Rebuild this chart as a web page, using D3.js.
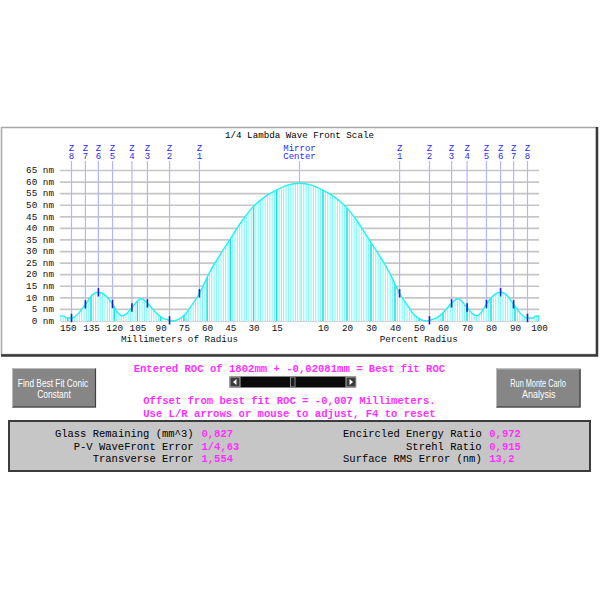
<!DOCTYPE html>
<html><head><meta charset="utf-8">
<script src="https://cdn.jsdelivr.net/npm/d3@7"></script>
<style>body{margin:0;background:#fff;} svg{display:block;}</style>
</head><body>
<script>
// ---------- data ----------
const radiusPct = [0, 5, 10, 15.1, 20.3, 26.1, 30.2, 34.9, 40, 43.6, 48, 50.2, 53.3, 55.9, 57.1, 60.3, 63.4, 66.4, 69.5, 73.5, 75.7, 77.9, 79.6, 81.9, 85.7, 88.2, 90.6, 93.6, 96.3, 99.8, 102.4, 103.3, 105.1];
const waveNm    = [59.5, 58.8, 56.6, 53.7, 49.4, 42, 35.7, 28.5, 19.9, 12.4, 5.8, 2.8, 0.6, 0, 0.3, 1.5, 4, 7.4, 9.6, 5.8, 3.3, 2.2, 3.5, 7.2, 11.5, 12.4, 11.5, 7.6, 4, 1.3, 1.3, 2.1, 2.2];
const zoneNames = ["1","2","3","4","5","6","7","8"];
const zonePct   = [43.9, 57.0, 66.7, 73.5, 82.0, 88.2, 93.9, 100];
const yTicks    = [0,5,10,15,20,25,30,35,40,45,50,55,60,65];
const mmTicks   = [150,135,120,105,90,75,60,45,30,15];
const pctTicks  = [10,20,30,40,50,60,70,80,90,100];
const titleText = "1/4 Lambda Wave Front Scale";
const rocLines  = ["Entered ROC of 1802mm + -0,02081mm = Best fit ROC",
                   "Offset from best fit ROC = -0,007 Millimeters.",
                   "Use L/R arrows or mouse to adjust, F4 to reset"];
const leftLabels  = ["Glass Remaining (mm^3)", "P-V WaveFront Error", "Transverse Error"];
const leftValues  = ["0,827", "1/4,63", "1,554"];
const rightLabels = ["Encircled Energy Ratio", "Strehl Ratio", "Surface RMS Error (nm)"];
const rightValues = ["0,972", "0,915", "13,2"];
const buttonLeft  = ["Find Best Fit Conic", "Constant"];
const buttonRight = ["Run Monte Carlo", "Analysis"];

// ---------- setup ----------
const MONO = "'Courier New','Liberation Mono',monospace";
const SANS = "Arial,'Liberation Sans',sans-serif";
const svg = d3.select("body").append("svg").attr("width",600).attr("height",600);
svg.append("rect").attr("width",600).attr("height",600).attr("fill","#fff");

const xPct = d3.scaleLinear().domain([-105.1,105.1]).range([299.5-2.28*105.1, 299.5+2.28*105.1]);
const yNm  = d3.scaleLinear().domain([0,65]).range([321,170.5]);
const xMm  = d3.scaleLinear().domain([0,150]).range([300,67.8]);   // left label axis
const xPl  = d3.scaleLinear().domain([0,100]).range([299,539]);    // right label axis

// symmetric profile
const pts = [];
for (let i = radiusPct.length-1; i >= 1; i--) pts.push({p:-radiusPct[i], v:waveNm[i]});
for (let i = 0; i < radiusPct.length; i++) pts.push({p:radiusPct[i], v:waveNm[i]});
const valAt = p => {
  const a = Math.abs(p);
  for (let i=0;i<radiusPct.length-1;i++){
    if (a>=radiusPct[i] && a<=radiusPct[i+1]) {
      const t=(a-radiusPct[i])/(radiusPct[i+1]-radiusPct[i]);
      return waveNm[i]+t*(waveNm[i+1]-waveNm[i]);
    }
  }
  return waveNm[waveNm.length-1];
};

// ---------- chart frame ----------
svg.append("rect").attr("x",1.5).attr("y",127.5).attr("width",595).attr("height",227)
  .attr("fill","#fff").attr("stroke","#a8a8a8").attr("stroke-width",1.5);
svg.append("path").attr("d","M597,127 L597,355.5 L1,355.5").attr("fill","none")
  .attr("stroke","#3a3a3a").attr("stroke-width",2.5);

svg.append("text").attr("x",299.5).attr("y",137.7).attr("text-anchor","middle")
  .attr("font-family",MONO).attr("font-size",9.2).attr("fill","#000").text(titleText);

// horizontal grid
const x0 = xPct(-105.1), x1 = xPct(105.1);
svg.append("g").selectAll("line").data(yTicks).join("line")
  .attr("x1",x0).attr("x2",x1).attr("y1",d=>yNm(d)).attr("y2",d=>yNm(d))
  .attr("stroke","#c6c6c6").attr("stroke-width",1.7);
svg.append("g").selectAll("text").data(yTicks).join("text")
  .attr("x",54).attr("y",d=>yNm(d)+2.8).attr("text-anchor","end")
  .attr("font-family",MONO).attr("font-size",9.3).attr("fill","#111").text(d=>d+" nm");

// zone lines + labels
const zones = [];
zoneNames.forEach((n,i)=>{ zones.push({n, p:-zonePct[i]}); zones.push({n, p:zonePct[i]}); });
const zg = svg.append("g");
zg.selectAll("line.z").data(zones.concat([{n:"C",p:0}])).join("line").attr("class","z")
  .attr("x1",d=>xPct(d.p)).attr("x2",d=>xPct(d.p)).attr("y1",161).attr("y2",yNm(0))
  .attr("stroke","#b4b4ff").attr("stroke-width",1.2);
zg.selectAll("text.zz").data(zones).join("text").attr("class","zz")
  .attr("x",d=>xPct(d.p)).attr("y",150.7).attr("text-anchor","middle")
  .attr("font-family",MONO).attr("font-size",9).attr("fill","#2828ff").text("Z");
zg.selectAll("text.zn").data(zones).join("text").attr("class","zn")
  .attr("x",d=>xPct(d.p)).attr("y",159.2).attr("text-anchor","middle")
  .attr("font-family",MONO).attr("font-size",9).attr("fill","#2828ff").text(d=>d.n);
zg.append("text").attr("x",xPct(0)).attr("y",150.7).attr("text-anchor","middle")
  .attr("font-family",MONO).attr("font-size",9).attr("fill","#2828ff").text("Mirror");
zg.append("text").attr("x",xPct(0)).attr("y",159.2).attr("text-anchor","middle")
  .attr("font-family",MONO).attr("font-size",9).attr("fill","#2828ff").text("Center");

// area + hatch
const area = d3.area().x(d=>xPct(d.p)).y0(yNm(0)).y1(d=>yNm(d.v)).curve(d3.curveMonotoneX);
const line = d3.line().x(d=>xPct(d.p)).y(d=>yNm(d.v)).curve(d3.curveMonotoneX);
svg.append("clipPath").attr("id","fillclip").append("path").attr("d",area(pts));
const hg = svg.append("g").attr("clip-path","url(#fillclip)");
hg.append("rect").attr("x",x0-2).attr("y",yNm(65)).attr("width",x1-x0+4).attr("height",yNm(0)-yNm(65)+1).attr("fill","#fff");
const hatchX = [];
for (let m=0; xMm(m) >= x0-1; m+=1.5) hatchX.push(xMm(m));
for (let p=1; xPl(p) <= x1+1; p+=1) hatchX.push(xPl(p));
hg.selectAll("line.h").data(hatchX).join("line").attr("class","h")
  .attr("x1",d=>d).attr("x2",d=>d).attr("y1",yNm(65)).attr("y2",yNm(0)+1)
  .attr("stroke","#7ff6f6").attr("stroke-width",1);
const darkX = mmTicks.map(m=>xMm(m)).concat(pctTicks.map(p=>xPl(p)));
hg.selectAll("line.d").data(darkX).join("line").attr("class","d")
  .attr("x1",d=>d).attr("x2",d=>d).attr("y1",yNm(65)).attr("y2",yNm(0)+1)
  .attr("stroke","#12e2e2").attr("stroke-width",1.4);

svg.append("path").attr("d",line(pts)).attr("fill","none").attr("stroke","#22f2f2").attr("stroke-width",1.4);

// zone ticks on curve
svg.append("g").selectAll("line").data(zones).join("line")
  .attr("x1",d=>xPct(d.p)).attr("x2",d=>xPct(d.p))
  .attr("y1",d=>yNm(valAt(d.p))-4.2).attr("y2",d=>yNm(valAt(d.p))+4.2)
  .attr("stroke","#1c1ce0").attr("stroke-width",1.6);

// bottom axes
const axL = d3.axisBottom(xMm).tickValues(mmTicks).tickSize(0).tickPadding(0);
const axR = d3.axisBottom(xPl).tickValues(pctTicks).tickSize(0).tickPadding(0);
[axL, axR].forEach(ax=>{
  const g = svg.append("g").attr("transform","translate(0,322.5)").call(ax);
  g.select(".domain").remove();
  g.selectAll("text").attr("font-family",MONO).attr("font-size",9.3).attr("fill","#111")
    .attr("dy",null).attr("y",8.5);
});
svg.append("text").attr("x",179.5).attr("y",341.5).attr("text-anchor","middle")
  .attr("font-family",MONO).attr("font-size",9.3).attr("fill","#111").text("Millimeters of Radius");
svg.append("text").attr("x",418.7).attr("y",341.5).attr("text-anchor","middle")
  .attr("font-family",MONO).attr("font-size",9.3).attr("fill","#111").text("Percent Radius");

// ---------- controls ----------
const MAG = "#ff30ff";
[372, 404, 417].forEach((yy,i)=>{
  svg.append("text").attr("x",289.4).attr("y",yy).attr("text-anchor","middle")
    .attr("font-family",MONO).attr("font-size",10.6).attr("font-weight","bold").attr("fill",MAG).text(rocLines[i]);
});
// slider
svg.append("rect").attr("x",229.5).attr("y",376.5).attr("width",126.5).attr("height",11).attr("fill","#0b0b0b");
[[229.5,"L"],[345.5,"R"]].forEach(([bx,dir])=>{
  svg.append("rect").attr("x",bx+0.5).attr("y",377).attr("width",10).attr("height",10)
    .attr("fill","#3a3a3a").attr("stroke","#b0b0b0").attr("stroke-width",1);
  const cx = bx+5.5, cy=382;
  const d = dir==="L" ? `M${cx-2},${cy} L${cx+1.5},${cy-3} L${cx+1.5},${cy+3} Z`
                      : `M${cx+2},${cy} L${cx-1.5},${cy-3} L${cx-1.5},${cy+3} Z`;
  svg.append("path").attr("d",d).attr("fill","#fff");
});
svg.append("rect").attr("x",290.5).attr("y",377).attr("width",4.5).attr("height",10)
  .attr("fill","#1c1c1c").attr("stroke","#8a8a8a").attr("stroke-width",1);

// buttons
function button(x, y, w, h, lines, cx){
  svg.append("rect").attr("x",x).attr("y",y).attr("width",w).attr("height",h)
    .attr("fill","#868686").attr("stroke","#6a6a6a").attr("stroke-width",1);
  svg.append("path").attr("d",`M${x},${y+h} L${x+w},${y+h} L${x+w},${y}`).attr("fill","none")
    .attr("stroke","#404040").attr("stroke-width",1.2);
  svg.append("path").attr("d",`M${x},${y+h} L${x},${y} L${x+w},${y}`).attr("fill","none")
    .attr("stroke","#d0d0d0").attr("stroke-width",0.8);
  lines.forEach((t,i)=>{
    svg.append("text").attr("x",cx[i]).attr("y",387.2+i*10.5).attr("text-anchor","middle")
      .attr("font-family",SANS).attr("font-size",10.6).attr("fill","#fff")
      .attr("textLength", t.length>10 ? t.length*3.7 : t.length*4.2).attr("lengthAdjust","spacingAndGlyphs").text(t);
  });
}
button(12.5, 368.5, 83, 38.5, buttonLeft, [53, 54]);
button(496.5, 369, 83.5, 38, buttonRight, [538, 538.7]);

// ---------- results panel ----------
svg.append("rect").attr("x",9).attr("y",421).attr("width",581).attr("height",50)
  .attr("fill","#c6c6c6").attr("stroke","#3c3c3c").attr("stroke-width",2);
[437, 449.5, 462].forEach((yy,i)=>{
  svg.append("text").attr("x",193.5).attr("y",yy).attr("text-anchor","end")
    .attr("font-family",MONO).attr("font-size",10.5).attr("fill","#000").text(leftLabels[i]);
  svg.append("text").attr("x",201.5).attr("y",yy)
    .attr("font-family",MONO).attr("font-size",10.5).attr("font-weight","bold").attr("fill",MAG).text(leftValues[i]);
  svg.append("text").attr("x",481.7).attr("y",yy).attr("text-anchor","end")
    .attr("font-family",MONO).attr("font-size",10.5).attr("fill","#000").text(rightLabels[i]);
  svg.append("text").attr("x",489.3).attr("y",yy)
    .attr("font-family",MONO).attr("font-size",10.5).attr("font-weight","bold").attr("fill",MAG).text(rightValues[i]);
});
</script>
</body></html>
